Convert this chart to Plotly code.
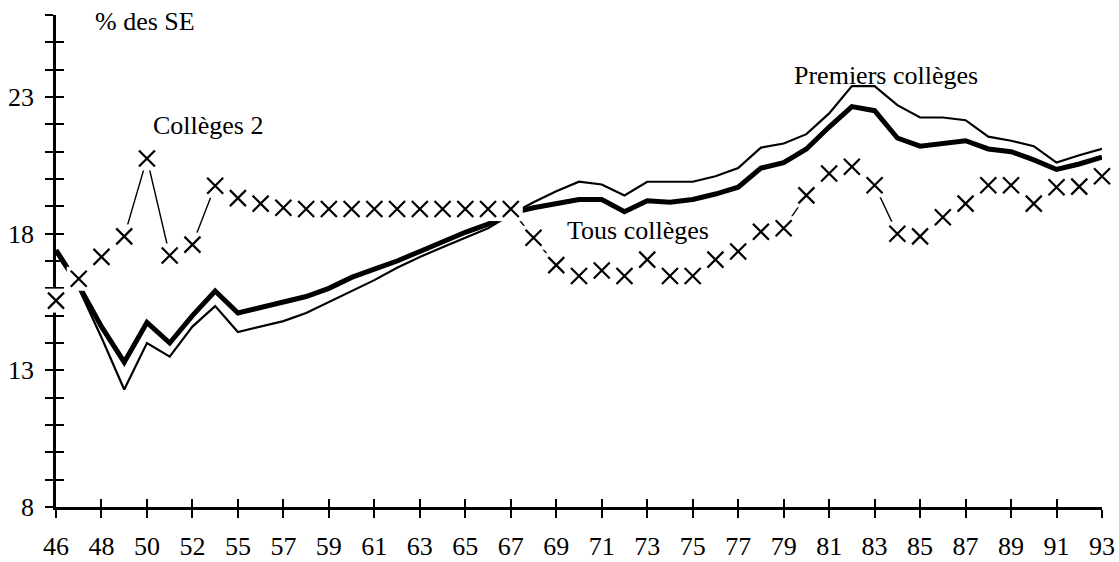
import plotly.graph_objects as go

years = ["46", "47", "48", "49", "50", "51", "52", "53",
         "55", "56", "57", "58", "59", "60", "61", "62", "63", "64", "65", "66", "67",
         "68", "69", "70", "71", "72", "73", "74", "75", "76", "77", "78", "79", "80",
         "81", "82", "83", "84", "85", "86", "87", "88", "89", "90", "91", "92", "93"]

colleges2 = [15.55, 16.35, 17.15, 17.9, 20.75, 17.2, 17.6, 19.75,
             19.3, 19.1, 18.95, 18.9, 18.9, 18.9, 18.9, 18.9, 18.9, 18.9, 18.9, 18.9, 18.9,
             17.85, 16.85, 16.45, 16.65, 16.45, 17.05, 16.45, 16.45, 17.05, 17.35, 18.07, 18.2, 19.4,
             20.2, 20.45, 19.77, 18.0, 17.9, 18.6, 19.1, 19.77, 19.77, 19.1, 19.7, 19.72, 20.1]

tous = [17.4, 16.1, 14.6, 13.3, 14.75, 14.0, 15.0, 15.9,
        15.1, 15.3, 15.5, 15.7, 16.0, 16.4, 16.7, 17.0, 17.35, 17.7, 18.05, 18.35, 18.75,
        18.95, 19.1, 19.25, 19.25, 18.8, 19.2, 19.15, 19.25, 19.45, 19.7, 20.4, 20.6, 21.1,
        21.9, 22.65, 22.5, 21.5, 21.2, 21.3, 21.4, 21.1, 21.0, 20.7, 20.35, 20.55, 20.8]

premiers = [17.3, 16.0, 14.2, 12.3, 14.0, 13.5, 14.6, 15.35,
            14.4, 14.6, 14.8, 15.1, 15.5, 15.9, 16.3, 16.75, 17.15, 17.5, 17.85, 18.2, 18.7,
            19.15, 19.55, 19.9, 19.8, 19.4, 19.9, 19.9, 19.9, 20.1, 20.4, 21.15, 21.3, 21.64,
            22.4, 23.4, 23.4, 22.7, 22.25, 22.25, 22.15, 21.55, 21.4, 21.2, 20.6, 20.87, 21.1]

labels = [
    ("% des SE", 3.9, 25.75),
    ("Collèges 2", 6.7, 21.95),
    ("Premiers collèges", 36.5, 23.8),
    ("Tous collèges", 25.6, 18.1),
]

FONT = "Liberation Serif"
FS = 26
n = len(years)

fig = go.Figure()
fig.add_trace(go.Scatter(x=years, y=colleges2, mode="lines",
                         line=dict(color="black", width=1.4),
                         hoverinfo="skip", showlegend=False, cliponaxis=False))
fig.add_trace(go.Scatter(x=years, y=premiers, mode="lines",
                         line=dict(color="black", width=2.2),
                         showlegend=False, cliponaxis=False))
fig.add_trace(go.Scatter(x=years, y=tous, mode="lines",
                         line=dict(color="black", width=5),
                         showlegend=False, cliponaxis=False))
# white backing of the markers (hides lines beneath them)
fig.add_trace(go.Scatter(x=years, y=colleges2, mode="markers",
                         marker=dict(symbol="square", size=24, color="white",
                                     line=dict(width=0)),
                         hoverinfo="skip", showlegend=False, cliponaxis=False))
fig.add_trace(go.Scatter(x=years, y=colleges2, mode="markers",
                         marker=dict(symbol="x-thin-open", size=16, color="black",
                                     line=dict(color="black", width=2.2)),
                         showlegend=False, cliponaxis=False))
# dummy trace for the overlay axes (inner half of crossing ticks)
fig.add_trace(go.Scatter(x=years, y=[None] * n, xaxis="x2", yaxis="y2",
                         mode="lines", hoverinfo="skip", showlegend=False))

for text, xv, yv in labels:
    fig.add_annotation(text=text, x=xv, y=yv, xref="x", yref="y",
                       showarrow=False, xanchor="center", yanchor="middle",
                       font=dict(family=FONT, size=FS, color="black"))

common_x = dict(type="category", categoryorder="array", categoryarray=years,
                range=[0, n - 1], tickmode="linear", tick0=0, dtick=2,
                showgrid=False, zeroline=False, layer="below traces",
                automargin=False)
common_y = dict(range=[8, 26], tickmode="linear", tick0=8, dtick=5,
                showgrid=False, zeroline=False, layer="below traces",
                automargin=False)

fig.update_layout(
    width=1119, height=562,
    margin=dict(l=56, r=17, t=15, b=55),
    paper_bgcolor="white", plot_bgcolor="white",
    font=dict(family=FONT, size=FS, color="black"),
    xaxis=dict(**common_x, showline=True, linecolor="black", linewidth=2.5,
               ticks="outside", ticklen=8, tickwidth=2, tickcolor="black",
               ticklabelstandoff=6,
               tickfont=dict(family=FONT, size=FS, color="black")),
    yaxis=dict(**common_y, showline=True, linecolor="black", linewidth=2.5,
               ticks="outside", ticklen=8, tickwidth=2, tickcolor="black",
               ticklabelstandoff=6,
               minor=dict(ticks="outside", dtick=1, tick0=8, ticklen=8,
                          tickwidth=2, tickcolor="black"),
               tickfont=dict(family=FONT, size=FS, color="black")),
    xaxis2=dict(**common_x, overlaying="x", anchor="y2", side="bottom",
                showline=False, showticklabels=False,
                ticks="inside", ticklen=8, tickwidth=2, tickcolor="black"),
    yaxis2=dict(**common_y, overlaying="y", anchor="x2", side="left",
                showline=False, showticklabels=False,
                ticks="inside", ticklen=8, tickwidth=2, tickcolor="black",
                minor=dict(ticks="inside", dtick=1, tick0=8, ticklen=8,
                           tickwidth=2, tickcolor="black")),
)

fig.write_html(
    "out.html",
    config={"displayModeBar": False},
    post_script="document.body.style.margin='0';document.body.style.overflow='hidden';",
)
